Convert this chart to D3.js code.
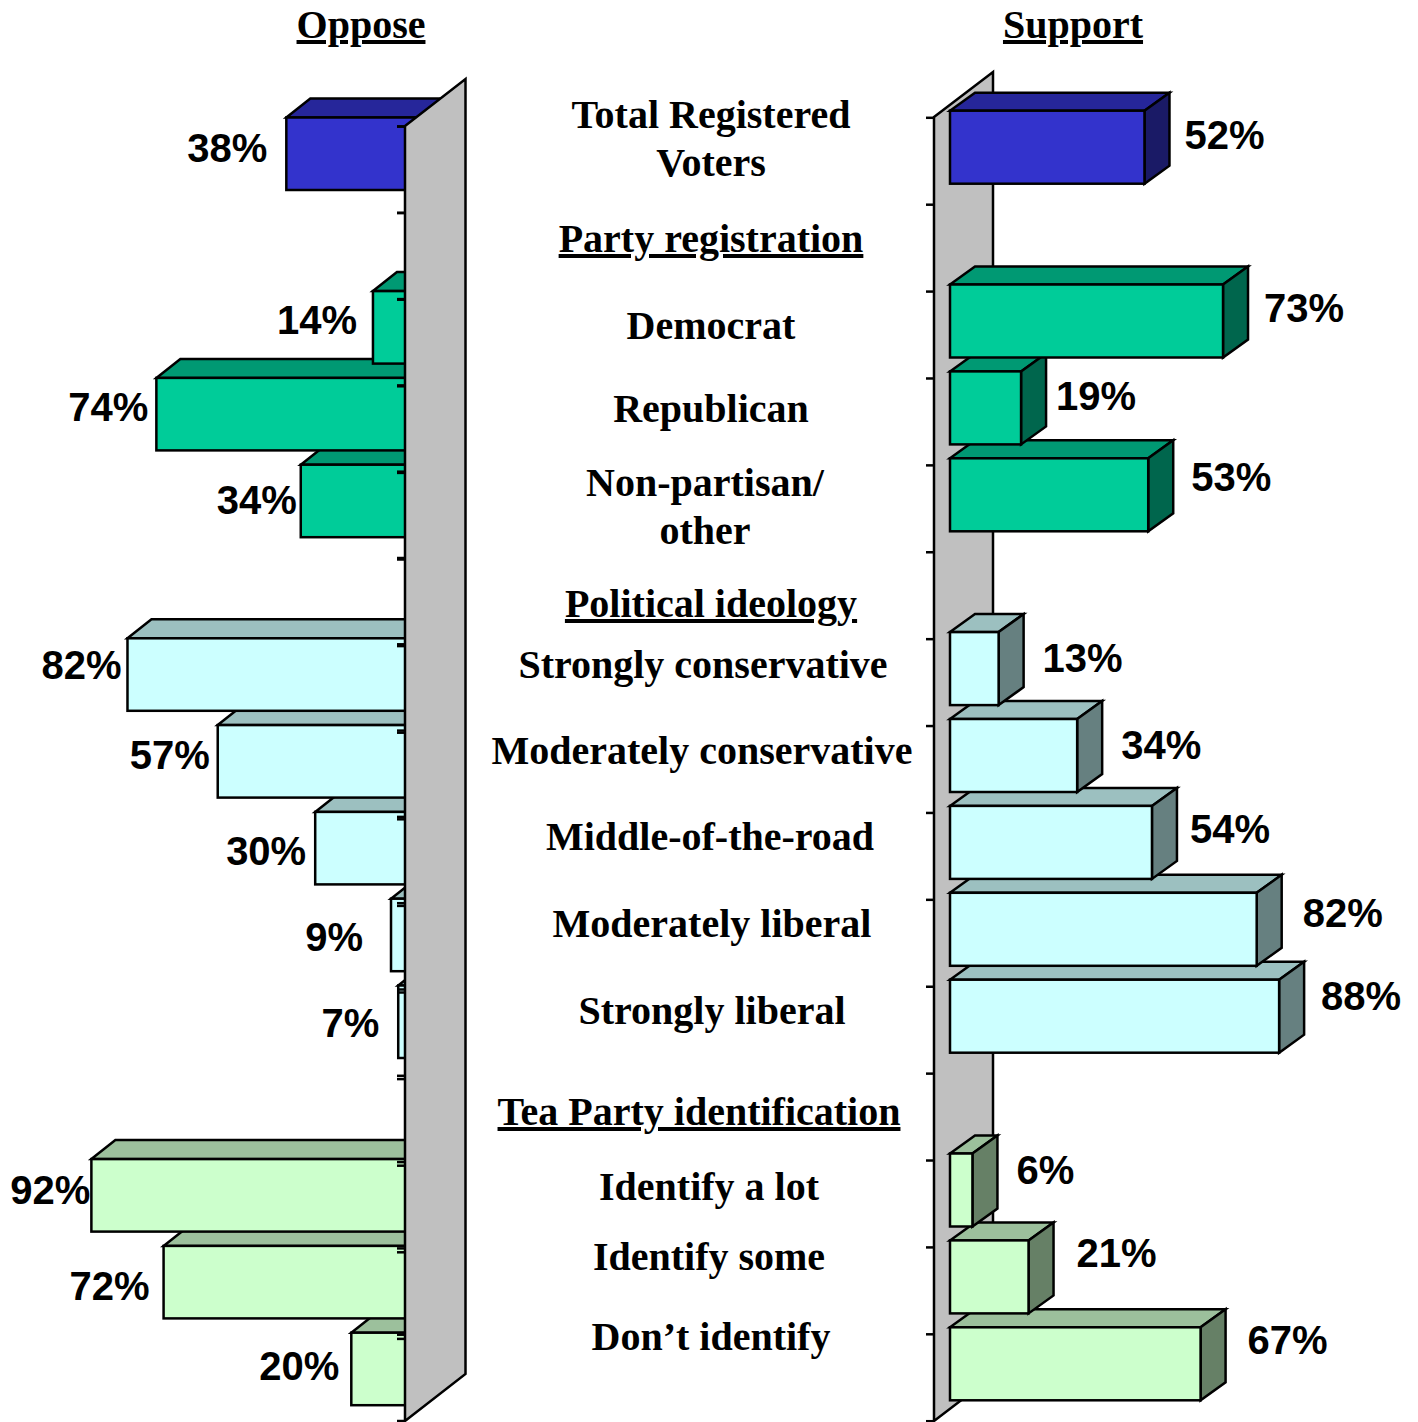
<!DOCTYPE html>
<html>
<head>
<meta charset="utf-8">
<script src="https://cdnjs.cloudflare.com/ajax/libs/d3/7.8.5/d3.min.js"></script>
<style>
  html, body { margin: 0; padding: 0; background: #fff; }
  svg { display: block; }
  .pct { font: bold 40px "Liberation Sans", Arial, sans-serif; fill: #000; dominant-baseline: central; }
  .cat { font: bold 40px "Liberation Serif", "Times New Roman", serif; fill: #000; text-anchor: middle; }
  .underlined { text-decoration: underline; text-decoration-thickness: 3.5px; }
</style>
</head>
<body>
<svg id="chart" width="1418" height="1422"></svg>
<script>
// 15 slots on the axis, the section headers have no bar
const categories = ["Total Registered Voters", "Party registration", "Democrat", "Republican", "Non-partisan/other",
  "Political ideology", "Strongly conservative", "Moderately conservative", "Middle-of-the-road", "Moderately liberal",
  "Strongly liberal", "Tea Party identification", "Identify a lot", "Identify some", "Don’t identify"];
const groups = ["total", null, "party", "party", "party", null, "ideology", "ideology", "ideology", "ideology",
  "ideology", null, "tea", "tea", "tea"];
const oppose = [38, null, 14, 74, 34, null, 82, 57, 30, 9, 7, null, 92, 72, 20];
const support = [52, null, 73, 19, 53, null, 13, 34, 54, 82, 88, null, 6, 21, 67];
const headers = ["Oppose", "Support"];

// front, top, side colours of the boxes
const colors = {
  total: ["#3333cc", "#26269a", "#1a1a66"],
  party: ["#00cc99", "#009973", "#00664d"],
  ideology: ["#ccffff", "#9cc0c0", "#668080"],
  tea: ["#ccffcc", "#9cc09c", "#668066"]
};

// the value labels were placed by hand in the original: [dx from bar end, dy from bar top]
const opposeNudge = [[-19, 30], null, [-16, 29], [-8, 29], [-4, 35], null, [-6, 27], [-8, 30], [-9, 39], [-28, 38], [-19, 37], null, [-1, 31], [-14, 40], [-12, 33]];
const supportNudge = [[40, 24], null, [41, 23], [35, 25], [43, 19], null, [44, 26], [44, 26], [38, 23], [46, 20], [42, 16], null, [44, 16], [48, 13], [47, 13]];

// centre column text: text, x, baseline
const labelLines = [
  ["Total Registered", 711, 128], ["Voters", 711, 176],
  ["Party registration", 711, 252, true],
  ["Democrat", 711, 339], ["Republican", 711, 422],
  ["Non-partisan/", 705, 496], ["other", 705, 544],
  ["Political ideology", 711, 617, true],
  ["Strongly conservative", 703, 678], ["Moderately conservative", 702, 764],
  ["Middle-of-the-road", 710, 850], ["Moderately liberal", 712, 937], ["Strongly liberal", 712, 1024],
  ["Tea Party identification", 699, 1125, true],
  ["Identify a lot", 709, 1200], ["Identify some", 709, 1270], ["Don’t identify", 711, 1350]
];

const svg = d3.select("#chart");
const lineW = 2.5;
const slots = d3.range(categories.length);

const xOppose = d3.scaleLinear().domain([0, 100]).range([423.5, 62.5]);
const xSupport = d3.scaleLinear().domain([0, 100]).range([950, 1324]);
const yOppose = d3.scaleBand().domain(slots).range([117.5, 117.5 + 15 * 86.8]);
const ySupport = d3.scaleBand().domain(slots).range([110.7, 110.7 + 15 * 86.9]);

function wall(px, topY, botY, wallW, wallRise) {
  const p = d3.path();
  p.moveTo(px, topY);
  p.lineTo(px + wallW, topY - wallRise);
  p.lineTo(px + wallW, botY - wallRise);
  p.lineTo(px, botY);
  p.closePath();
  svg.append("path").attr("d", p.toString())
    .attr("fill", "#c0c0c0").attr("stroke", "#000").attr("stroke-width", lineW);
}

function drawBars(values, x, y, barH, depthX, depthY, withSide) {
  // upper bars sit in front of the top face of the one below
  const rows = slots.filter(i => values[i] !== null).reverse();
  const g = svg.append("g").attr("stroke", "#000").attr("stroke-width", lineW).attr("stroke-linejoin", "miter");
  rows.forEach(i => {
    const c = colors[groups[i]];
    const x0 = Math.min(x(0), x(values[i]));
    const x1 = Math.max(x(0), x(values[i]));
    const y0 = y(i);
    const top = d3.path();
    top.moveTo(x0, y0);
    top.lineTo(x0 + depthX, y0 + depthY);
    top.lineTo(x1 + depthX, y0 + depthY);
    top.lineTo(x1, y0);
    top.closePath();
    g.append("path").attr("d", top.toString()).attr("fill", c[1]);
    if (withSide) {
      const side = d3.path();
      side.moveTo(x1, y0);
      side.lineTo(x1 + depthX, y0 + depthY);
      side.lineTo(x1 + depthX, y0 + depthY + barH);
      side.lineTo(x1, y0 + barH);
      side.closePath();
      g.append("path").attr("d", side.toString()).attr("fill", c[2]);
    }
    g.append("rect").attr("x", x0).attr("y", y0).attr("width", x1 - x0).attr("height", barH).attr("fill", c[0]);
  });
}

function drawTicks(px, scale, count) {
  const axis = d3.axisLeft(scale).tickValues(d3.range(count)).tickSize(8).tickFormat("");
  const g = svg.append("g").attr("transform", "translate(" + px + ",0)").call(axis);
  g.select(".domain").remove();
  g.selectAll("line").attr("stroke", "#000").attr("stroke-width", lineW);
}

// Oppose side: the wall covers the foot of the bars
drawBars(oppose, xOppose, yOppose, 72.5, 24, -19, false);
wall(405, 126, 1421, 60.5, 47);
// the left axis has two slightly different tick runs, they drift apart further down
drawTicks(405, d3.scaleLinear().domain([0, 15]).range([126, 1420.5]), 16);
drawTicks(405, d3.scaleLinear().domain([0, 14]).range([126, 1338.4]), 15);

// Support side: bars stand in front of the wall
wall(934, 117, 1421, 59, 45);
drawTicks(934, d3.scaleLinear().domain([0, 15]).range([117.3, 1420.7]), 16);
drawBars(support, xSupport, ySupport, 73, 25, -18, true);

// value labels
slots.filter(i => oppose[i] !== null).forEach(i => {
  svg.append("text").attr("class", "pct").attr("text-anchor", "end")
    .attr("x", xOppose(oppose[i]) + opposeNudge[i][0])
    .attr("y", yOppose(i) + opposeNudge[i][1])
    .text(oppose[i] + "%");
});
slots.filter(i => support[i] !== null).forEach(i => {
  svg.append("text").attr("class", "pct").attr("text-anchor", "start")
    .attr("x", xSupport(support[i]) + supportNudge[i][0])
    .attr("y", ySupport(i) + supportNudge[i][1])
    .text(support[i] + "%");
});

// centre column
labelLines.forEach(d => {
  svg.append("text").attr("class", d[3] ? "cat underlined" : "cat")
    .attr("x", d[1]).attr("y", d[2]).text(d[0]);
});

// column headers
svg.append("text").attr("class", "cat underlined").attr("x", 361).attr("y", 38).text(headers[0]);
svg.append("text").attr("class", "cat underlined").attr("x", 1073).attr("y", 38).text(headers[1]);
</script>
</body>
</html>
